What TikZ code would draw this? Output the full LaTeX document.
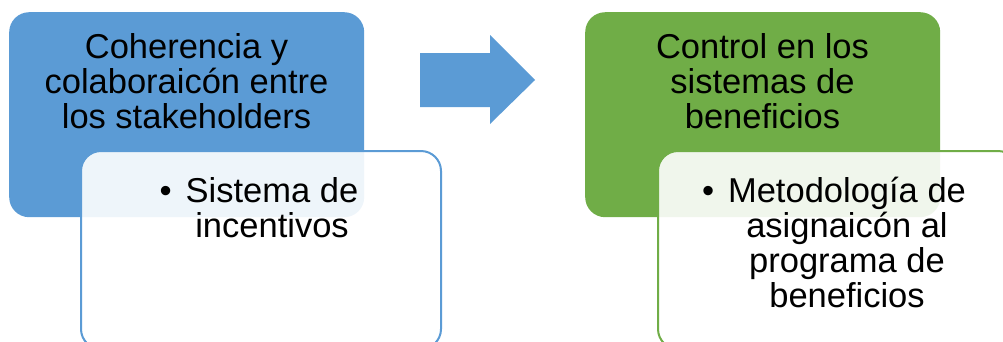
\documentclass[tikz,border=0pt]{standalone}
\usepackage{fontspec}
\setmainfont{Liberation Sans}
\definecolor{accblue}{HTML}{5B9BD5}
\definecolor{accgreen}{HTML}{70AD47}
\begin{document}
\begin{tikzpicture}[x=1pt,y=-1pt,
  headbox/.style={rounded corners=20pt, inner sep=0pt, anchor=north west,
    minimum width=355pt, minimum height=205pt},
  subbox/.style={rounded corners=20pt, inner sep=0pt, anchor=north west,
    minimum width=360pt, minimum height=198pt, line width=2pt,
    fill=white, fill opacity=0.9, draw opacity=1},
  % base anchor of a multi-line node sits on its last line
  bigtext/.style={font=\fontsize{34.5}{35}\selectfont, align=center,
    inner sep=0pt, anchor=base, text=black, text opacity=1}]
  \useasboundingbox (0,0) rectangle (1003,341);
  \clip (0,0) rectangle (1003,341);

  % left pair of boxes
  \node[headbox, fill=accblue] (cohbox) at (9,12) {};
  \node[bigtext] (cohtxt) at (186.5,128.5)
    {Coherencia y\\colaboraicón entre\\los stakeholders};
  \node[subbox, draw=accblue] (incbox) at (80,150) {};
  \node[bigtext] (inctxt) at (272,237)
    {\llap{•\hspace{14pt}}Sistema de\\incentivos};

  % block arrow between the pairs
  \fill[accblue] (420,53) -- (490,53) -- (490,35) -- (535,80)
    -- (490,124) -- (490,107) -- (420,107) -- cycle;

  % right pair of boxes
  \node[headbox, fill=accgreen] (ctlbox) at (585,12) {};
  \node[bigtext] (ctltxt) at (762.5,128.5)
    {Control en los\\sistemas de\\beneficios};
  \node[subbox, draw=accgreen] (metbox) at (657,150) {};
  \node[bigtext] (mettxt) at (847,307)
    {\llap{•\hspace{14pt}}Metodología de\\asignaicón al\\programa de\\beneficios};
\end{tikzpicture}
\end{document}
